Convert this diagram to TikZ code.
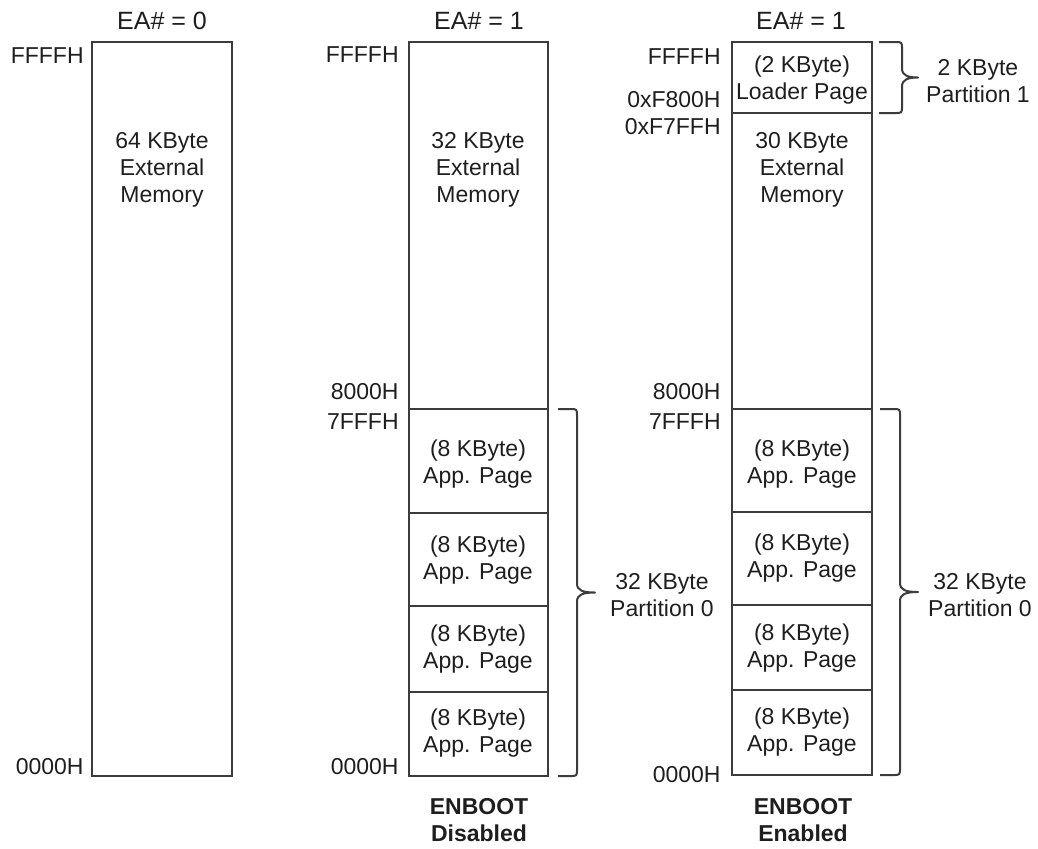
\documentclass[tikz,border=0pt]{standalone}
\usepackage{fontspec}
\setmainfont{Liberation Sans}
\usepackage{xcolor}
\usetikzlibrary{positioning}
\definecolor{linegray}{HTML}{3C3C3C}
\definecolor{textgray}{HTML}{1E1E1E}
% curly brace: start x, vertical x, tip x, top y, bottom y
\newcommand{\membrace}[5]{%
  \draw[brc] (#1,#4) -- ({#2-7},#4) .. controls (#2,#4) .. ({#2},{#4+7})
    -- ({#2},{(#4+#5)/2-9}) .. controls ({#2},{(#4+#5)/2-2}) and ({#2+6},{(#4+#5)/2}) .. (#3,{(#4+#5)/2})
    .. controls ({#2+6},{(#4+#5)/2}) and ({#2},{(#4+#5)/2+2}) .. ({#2},{(#4+#5)/2+9})
    -- ({#2},{#5-7}) .. controls (#2,#5) .. ({#2-7},#5) -- (#1,#5);}

\begin{document}
\begin{tikzpicture}[
  x=0.5pt,y=-0.5pt,
  font=\fontsize{11.5}{13.5}\selectfont,
  mem/.style={draw=linegray,line width=1pt},
  brc/.style={draw=linegray,line width=1pt,line join=round},
  txt/.style={align=center,text=textgray,inner sep=0pt},
  addr/.style={anchor=east,text=textgray,inner sep=0pt},
  ttl/.style={text=textgray,inner sep=0pt,font=\fontsize{12.5}{15}\selectfont},
  foot/.style={align=center,text=textgray,inner sep=0pt,font=\fontsize{11.5}{13.5}\selectfont\bfseries}
]
\useasboundingbox (0,0) rectangle (1038,848);

% EA# = 0
\node[ttl] (ea0) at (162,21) {EA\# = 0};
\draw[mem] (92,42) rectangle (232,776);
\node[txt] (ext0) at (162,170) {64 KByte\\External\\Memory};
\node[addr] (top0) at (84,56) {FFFFH};
\node[addr] (bot0) at (84,767) {0000H};

% EA# = 1, ENBOOT disabled
\node[ttl] (ea1) at (479,21) {EA\# = 1};
\draw[mem] (409,42) rectangle (548,776);
\foreach \y in {409,513,606,692}
  \draw[mem] (409,\y) -- (548,\y);
\node[txt] (ext1) at (478,170) {32 KByte\\External\\Memory};
\foreach \y [count=\i] in {464,560,649,733}
  \node[txt] (pgd\i) at (478,\y) {(8 KByte)\\App. Page};
\node[addr] (top1) at (399,55) {FFFFH};
\node[addr] (hi1) at (399,392) {8000H};
\node[addr] (lo1) at (399,422) {7FFFH};
\node[addr] (bot1) at (399,767) {0000H};
\membrace{558}{577}{595}{409}{776}
\node[txt] (part1) at (662,595) {32 KByte\\Partition 0};
\node[foot] (dis) at (479,820) {ENBOOT\\Disabled};

% EA# = 1, ENBOOT enabled
\node[ttl] (ea2) at (801,21) {EA\# = 1};
\draw[mem] (732,42) rectangle (872,775);
\foreach \y in {113,409,512,605,690}
  \draw[mem] (732,\y) -- (872,\y);
\node[txt] (ldr) at (802,80) {(2 KByte)\\Loader Page};
\node[txt] (ext2) at (802,170) {30 KByte\\External\\Memory};
\foreach \y [count=\i] in {464,558,648,732}
  \node[txt] (pge\i) at (802,\y) {(8 KByte)\\App. Page};
\node[addr] (top2) at (721,57) {FFFFH};
\node[addr] (f800) at (721,100) {0xF800H};
\node[addr] (f7ff) at (721,127) {0xF7FFH};
\node[addr] (hi2) at (721,392) {8000H};
\node[addr] (lo2) at (721,422) {7FFFH};
\node[addr] (bot2) at (721,775) {0000H};
\membrace{879}{902}{918}{42}{113}
\node[txt] (part2) at (978,81) {2 KByte\\Partition 1};
\membrace{880}{900}{918}{409}{775}
\node[txt] (part3) at (980,595) {32 KByte\\Partition 0};
\node[foot] (ena) at (803,820) {ENBOOT\\Enabled};
\end{tikzpicture}
\end{document}
